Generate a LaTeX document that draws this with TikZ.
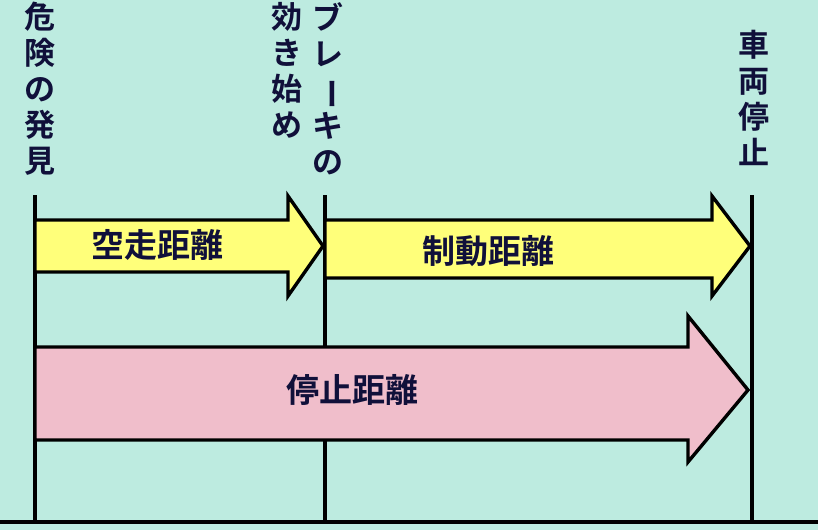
\documentclass[tikz,border=0pt]{standalone}
\usepackage{fontspec}
\usepackage{graphicx}
\newfontfamily\jp{Noto Sans CJK JP}[BoldFont=* Bold]
\definecolor{bg}{HTML}{BDEBE0}
\definecolor{ylw}{HTML}{FFFF7A}
\definecolor{pnk}{HTML}{F0BECB}
\definecolor{ink}{HTML}{10103A}
\tikzset{arr/.style={draw=black,line width=3.4pt,line join=miter},
 vline/.style={line width=3.4pt,draw=black},
 lbl/.style={font=\jp\bfseries\fontsize{33}{33}\selectfont,text=ink},
 vtxt/.style={font=\jp\bfseries\fontsize{31}{36}\selectfont,text=ink,align=center,anchor=north,inner sep=0pt}}
\begin{document}
\begin{tikzpicture}[x=1pt,y=-1pt]
\fill[bg] (0,0) rectangle (818,530);
\useasboundingbox (0,0) rectangle (818,530);
\draw[vline] (35,195) -- (35,524);
\draw[vline] (325,195) -- (325,524);
\draw[vline] (752,195) -- (752,524);
\draw[vline] (0,522) -- (818,522);
\draw[arr,fill=ylw] (35,220) -- (288,220) -- (288,196) -- (323,246) -- (288,296) -- (288,272) -- (35,272) -- cycle;
\draw[arr,fill=ylw] (325,220) -- (712,220) -- (712,196) -- (750,246) -- (712,296) -- (712,278) -- (325,278) -- cycle;
\draw[arr,fill=pnk] (35,347) -- (688,347) -- (688,316) -- (748,390) -- (688,462) -- (688,440) -- (35,440) -- cycle;
\node[lbl] (a) at (157,245) {空走距離};
\node[lbl] (b) at (488,251) {制動距離};
\node[lbl] (c) at (352,390) {停止距離};
\node[vtxt] (d) at (40,2) {危\\険\\の\\発\\見};
\node[vtxt] (e) at (287,2) {効\\き\\始\\め};
\node[vtxt] (f) at (328,2) {ブ\\レ\\\rotatebox[origin=c]{-90}{ー}\\キ\\の};
\node[vtxt] (g) at (754,30) {車\\両\\停\\止};
\end{tikzpicture}
\end{document}
